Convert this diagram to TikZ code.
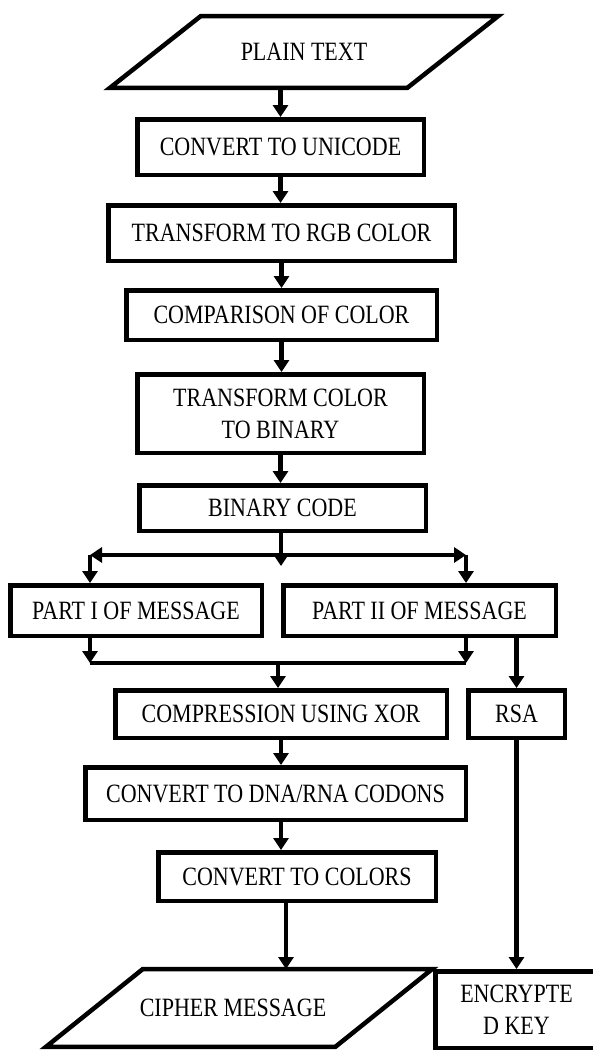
\documentclass[tikz,border=0pt]{standalone}
\usepackage{fontspec}
\setmainfont{Liberation Serif}
\usepackage{graphicx}
\usetikzlibrary{arrows.meta,calc}
\newcommand\vs[1]{\scalebox{1}[1.2]{#1}}
\begin{document}
\begin{tikzpicture}[x=1pt,y=-1pt,
  box/.style={draw,line width=4.5pt,rectangle,inner sep=0pt,align=center,font=\fontsize{22}{32}\selectfont},
  io/.style={rectangle,inner sep=0pt,align=center,font=\fontsize{22}{32}\selectfont},
  arr/.style={line width=4.5pt,-{Triangle[length=12pt,width=15pt]}},
  ln/.style={line width=4.5pt}]
\useasboundingbox (0,0) rectangle (593,1050);
% parallelogram input
\node[io,minimum width=297pt,minimum height=71.5pt] (plain) at (304,52) {\vs{PLAIN TEXT}};
\draw[ln] ([xshift=45.5pt]plain.north west) -- ([xshift=45.5pt]plain.north east) -- ([xshift=-45.5pt]plain.south east) -- ([xshift=-45.5pt]plain.south west) -- cycle;
% process boxes
\node[box,minimum width=286.5pt,minimum height=55.5pt] (unicode) at (280.5,147) {\vs{CONVERT TO UNICODE}};
\node[box,minimum width=346.5pt,minimum height=55.5pt] (rgb) at (281.5,233) {\vs{TRANSFORM TO RGB COLOR}};
\node[box,minimum width=310.5pt,minimum height=49.5pt] (comp) at (281.5,315) {\vs{COMPARISON OF COLOR}};
\node[box,minimum width=286.5pt,minimum height=78.5pt] (tcb) at (280.5,413.5) {\vs{TRANSFORM COLOR}\\\vs{TO BINARY}};
\node[box,minimum width=286.5pt,minimum height=45.5pt] (binary) at (282.5,508) {\vs{BINARY CODE}};
\node[box,minimum width=251.5pt,minimum height=50.5pt] (part1) at (136,610.5) {\vs{PART I OF MESSAGE}};
\node[box,minimum width=272.5pt,minimum height=50.5pt] (part2) at (419.5,610.5) {\vs{PART II OF MESSAGE}};
\node[box,minimum width=331.5pt,minimum height=47.5pt] (compr) at (281,714) {\vs{COMPRESSION USING XOR}};
\node[box,minimum width=96.5pt,minimum height=47.5pt] (rsa) at (516.5,714) {\vs{RSA}};
\node[box,minimum width=380.5pt,minimum height=52.5pt] (dna) at (275.5,793.5) {\vs{CONVERT TO DNA/RNA CODONS}};
\node[box,minimum width=277.5pt,minimum height=48.5pt] (colors) at (297,876.5) {\vs{CONVERT TO COLORS}};
\node[box,minimum width=162.5pt,minimum height=76.5pt] (enc) at (516.5,1009.5) {\vs{ENCRYPTE}\\\vs{D KEY}};
% output parallelogram
\node[io,minimum width=289pt,minimum height=77.5pt] (cipher) at (233,1008) {\vs{CIPHER MESSAGE}};
\draw[ln] ([xshift=54.5pt]cipher.north west) -- ([xshift=54.5pt]cipher.north east) -- ([xshift=-42.5pt]cipher.south east) -- ([xshift=-42.5pt]cipher.south west) -- cycle;
% junction coordinates
\coordinate (j) at (281,555);
\coordinate (jt) at (281,566);
\coordinate (jl) at (90,555);
\coordinate (jr) at (466,555);
\coordinate (ml) at (90,663);
\coordinate (mr) at (466,663);
\coordinate (m) at (278,663);
\coordinate (c1) at ([xshift=-11pt]colors.south);
% connectors
\draw[arr] (plain.south -| unicode.north) -- (unicode.north);
\draw[arr] (unicode.south) -- (unicode.south |- rgb.north);
\draw[arr] (rgb.south) -- (rgb.south |- comp.north);
\draw[arr] (comp.south) -- (comp.south |- tcb.north);
\draw[arr] (tcb.south) -- (tcb.south |- binary.north);
\draw[arr] (binary.south -| jt) -- (jt);
\draw[arr] (j) -- (jl);
\draw[arr] (j) -- (jr);
\draw[arr] (jl) -- (jl |- part1.north);
\draw[arr] (jr) -- (jr |- part2.north);
\draw[arr] (ml |- part1.south) -- (ml);
\draw[arr] (mr |- part2.south) -- (mr);
\draw[ln] (ml) -- (mr);
\draw[arr] (m) -- (m |- compr.north);
\draw[arr] (rsa.north |- part2.south) -- (rsa.north);
\draw[arr] (compr.south) -- (compr.south |- dna.north);
\draw[arr] (dna.south -| compr.south) -- (colors.north -| compr.south);
\draw[arr] (c1) -- (c1 |- cipher.north);
\draw[arr] (rsa.south) -- (rsa.south |- enc.north);
\end{tikzpicture}
\end{document}
